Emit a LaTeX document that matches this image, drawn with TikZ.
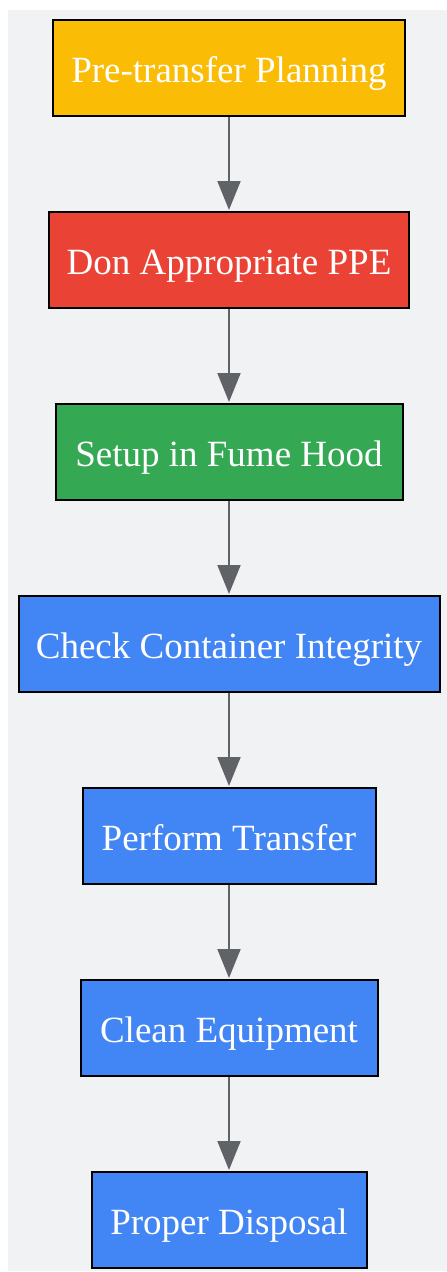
\documentclass[tikz,border=0pt]{standalone}
\usepackage{fontspec}
\setmainfont{Liberation Serif}
\usetikzlibrary{arrows.meta}
\definecolor{bgc}{HTML}{F1F2F4}
\definecolor{gyellow}{HTML}{FBBC05}
\definecolor{gred}{HTML}{EA4335}
\definecolor{ggreen}{HTML}{34A853}
\definecolor{gblue}{HTML}{4285F4}
\definecolor{arrowc}{HTML}{5F6368}
\begin{document}
\begin{tikzpicture}[x=1pt,y=1pt,
  stepbox/.style={draw=black, line width=2pt, inner sep=0pt, minimum height=96pt,
    text height=28pt, text depth=0pt,
    text=white, font=\fontsize{37}{44}\selectfont},
  conn/.style={draw=arrowc, line width=2pt, -{Triangle[length=29pt,width=23pt]}, shorten >=1pt}]
\useasboundingbox (0,0) rectangle (447,-1272);
\fill[bgc] (8,-10) rectangle (447,-1271);
\node[stepbox, fill=gyellow, minimum width=352pt] (n1) at (229,-68) {Pre-transfer Planning};
\node[stepbox, fill=gred, minimum width=360pt] (n2) at (229,-260) {Don Appropriate PPE};
\node[stepbox, fill=ggreen, minimum width=347pt] (n3) at (229,-452) {Setup in Fume Hood};
\node[stepbox, fill=gblue, minimum width=421pt] (n4) at (229,-644) {Check Container Integrity};
\node[stepbox, fill=gblue, minimum width=293pt] (n5) at (229,-836) {Perform Transfer};
\node[stepbox, fill=gblue, minimum width=297pt] (n6) at (229,-1028) {Clean Equipment};
\node[stepbox, fill=gblue, minimum width=275pt] (n7) at (229,-1220) {Proper Disposal};
\draw[conn] (n1.south) -- (n2.north);
\draw[conn] (n2.south) -- (n3.north);
\draw[conn] (n3.south) -- (n4.north);
\draw[conn] (n4.south) -- (n5.north);
\draw[conn] (n5.south) -- (n6.north);
\draw[conn] (n6.south) -- (n7.north);
\end{tikzpicture}
\end{document}
